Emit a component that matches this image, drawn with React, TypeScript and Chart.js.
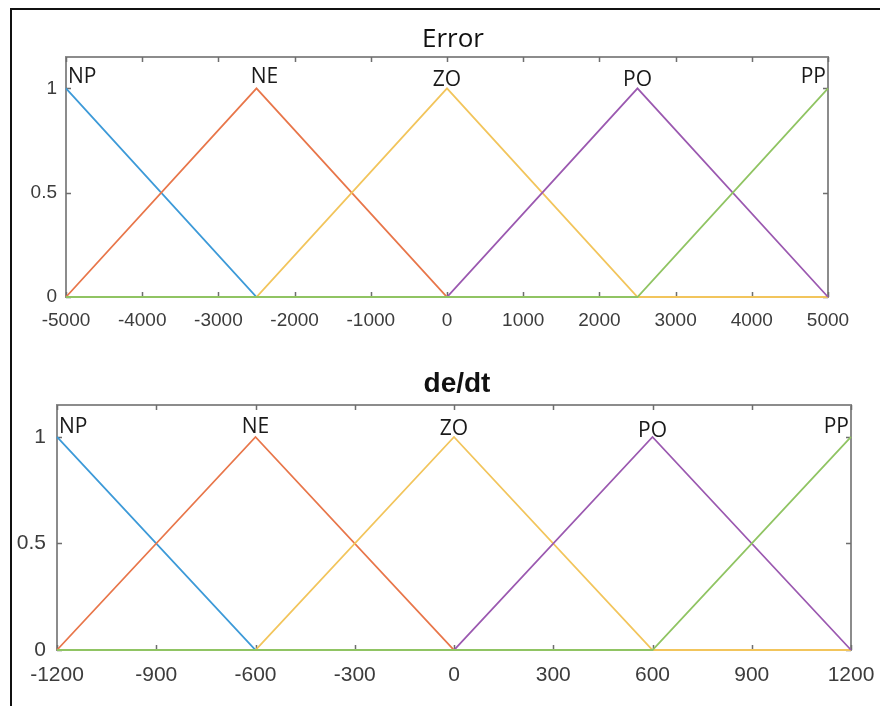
import React, { useEffect, useRef } from "react";
import { Chart, registerables } from "chart.js";

Chart.register(...registerables);

// ---- data ----
const mfNames = ["NP", "NE", "ZO", "PO", "PP"];
const errorBreaks = [-5000, -2500, 0, 2500, 5000];
const dedtBreaks = [-1200, -600, 0, 600, 1200];
const mfNP = [1, 0, 0, 0, 0];
const mfNE = [0, 1, 0, 0, 0];
const mfZO = [0, 0, 1, 0, 0];
const mfPO = [0, 0, 0, 1, 0];
const mfPP = [0, 0, 0, 0, 1];
const errorTicks = [-5000, -4000, -3000, -2000, -1000, 0, 1000, 2000, 3000, 4000, 5000];
const dedtTicks = [-1200, -900, -600, -300, 0, 300, 600, 900, 1200];
const yTicks = [0, 0.5, 1];
const errorTitle = "Error";
const dedtTitle = "de/dt";

// ---- styles ----
const mfColors = ["#3d9ad8", "#e8764a", "#f2c55c", "#9b59b0", "#90c463"];
const mfValues = [mfNP, mfNE, mfZO, mfPO, mfPP];

type PanelCfg = {
  title: string;
  breaks: number[];
  xTicks: number[];
  top: number;
  height: number;
  plotLeft: number;
  plotRight: number;
  plotTop: number;
  plotBottom: number;
  tickFont: number;
  yPad: number;
  xPad: number;
  titleFont: string;
  titleBaseline: number;
  titleDx: number;
  labelDy: number[];
  labelDx: number[];
};

const decoPlugin = {
  id: "deco",
  beforeDatasetsDraw(chart: any, _a: any, opts: any) {
    const { ctx, chartArea: ca } = chart;
    ctx.save();
    ctx.strokeStyle = "#8c8c8c";
    ctx.lineWidth = 2;
    ctx.strokeRect(ca.left, ca.top, ca.right - ca.left, ca.bottom - ca.top);
    // inward ticks
    ctx.lineWidth = 1.5;
    ctx.strokeStyle = "#6e6e6e";
    const xs = chart.scales.x;
    const ys = chart.scales.y;
    const L = 5;
    ctx.beginPath();
    for (const v of opts.xTicks) {
      const px = Math.round(xs.getPixelForValue(v)) + 0.5;
      ctx.moveTo(px, ca.bottom);
      ctx.lineTo(px, ca.bottom - L);
      ctx.moveTo(px, ca.top);
      ctx.lineTo(px, ca.top + L);
    }
    for (const v of yTicks) {
      const py = Math.round(ys.getPixelForValue(v)) + 0.5;
      ctx.moveTo(ca.left, py);
      ctx.lineTo(ca.left + L, py);
      ctx.moveTo(ca.right, py);
      ctx.lineTo(ca.right - L, py);
    }
    ctx.stroke();
    ctx.restore();
  },
  afterDatasetsDraw(chart: any, _a: any, opts: any) {
    const { ctx, chartArea: ca } = chart;
    const xs = chart.scales.x;
    const ys = chart.scales.y;
    ctx.save();
    // title
    ctx.fillStyle = "#111";
    ctx.font = opts.titleFont;
    ctx.textAlign = "center";
    ctx.textBaseline = "alphabetic";
    ctx.fillText(opts.title, (ca.left + ca.right) / 2 + opts.titleDx, opts.titleBaseline);
    // mf labels
    ctx.font = '21px "Open Sans"';
    ctx.fillStyle = "#1a1a1a";
    const yPeak = ys.getPixelForValue(1);
    mfNames.forEach((name, i) => {
      const peakX = opts.breaks[i];
      let px = xs.getPixelForValue(peakX) + opts.labelDx[i];
      if (i === 0) {
        ctx.textAlign = "left";
        px = ca.left + 2;
      } else if (i === mfNames.length - 1) {
        ctx.textAlign = "right";
        px = ca.right - 2;
      } else {
        ctx.textAlign = "center";
      }
      ctx.fillText(name, px, yPeak + opts.labelDy[i]);
    });
    ctx.restore();
  },
};

function Panel({ cfg }: { cfg: PanelCfg }) {
  const ref = useRef<HTMLCanvasElement | null>(null);
  useEffect(() => {
    if (!ref.current) return;
    const datasets = mfNames.map((name, i) => ({
      label: name,
      data: cfg.breaks.map((x, j) => ({ x, y: mfValues[i][j] })),
      borderColor: mfColors[i],
      backgroundColor: mfColors[i],
      borderWidth: 1.8,
      pointRadius: 0,
      showLine: true,
      fill: false,
      tension: 0,
      order: mfNames.length - 1 - i,
      clip: false as any,
    }));
    const chart = new Chart(ref.current, {
      type: "scatter",
      data: { datasets },
      plugins: [decoPlugin as any],
      options: {
        animation: false,
        responsive: false,
        maintainAspectRatio: false,
        events: [],
        layout: {
          padding: { left: 0, top: cfg.plotTop, right: 880 - cfg.plotRight, bottom: 0 },
        },
        plugins: {
          legend: { display: false },
          tooltip: { enabled: false },
          deco: {
            title: cfg.title,
            breaks: cfg.breaks,
            xTicks: cfg.xTicks,
            titleFont: cfg.titleFont,
            titleBaseline: cfg.titleBaseline,
            titleDx: cfg.titleDx,
            labelDy: cfg.labelDy,
            labelDx: cfg.labelDx,
          },
        } as any,
        scales: {
          x: {
            type: "linear",
            min: cfg.breaks[0],
            max: cfg.breaks[cfg.breaks.length - 1],
            grid: { display: false, drawTicks: false },
            border: { display: false },
            afterBuildTicks: (s: any) => {
              s.ticks = cfg.xTicks.map((v) => ({ value: v }));
            },
            afterFit: (s: any) => {
              s.height = cfg.height - cfg.plotBottom;
              s.paddingLeft = 0;
              s.paddingRight = 0;
            },
            ticks: {
              autoSkip: false,
              maxRotation: 0,
              padding: cfg.xPad,
              color: "#3c3c3c",
              font: { family: '"Liberation Sans", Arial, sans-serif', size: cfg.tickFont },
              callback: (v: any) => String(v),
            },
          },
          y: {
            type: "linear",
            min: 0,
            max: 1.15,
            grid: { display: false, drawTicks: false },
            border: { display: false },
            afterBuildTicks: (s: any) => {
              s.ticks = yTicks.map((v) => ({ value: v }));
            },
            afterFit: (s: any) => {
              s.width = cfg.plotLeft;
              s.paddingTop = 0;
              s.paddingBottom = 0;
            },
            ticks: {
              autoSkip: false,
              padding: cfg.yPad,
              color: "#3c3c3c",
              font: { family: '"Liberation Sans", Arial, sans-serif', size: cfg.tickFont },
              callback: (v: any) => String(v),
            },
          },
        },
      } as any,
    });
    return () => chart.destroy();
  }, [cfg]);
  return (
    <canvas
      ref={ref}
      width={880}
      height={cfg.height}
      style={{ position: "absolute", left: 0, top: cfg.top, width: 880, height: cfg.height }}
    />
  );
}

const topCfg: PanelCfg = {
  title: errorTitle,
  breaks: errorBreaks,
  xTicks: errorTicks,
  top: 0,
  height: 350,
  plotLeft: 66,
  plotRight: 828,
  plotTop: 57,
  plotBottom: 297,
  tickFont: 19,
  yPad: 9,
  xPad: 12,
  titleFont: '26px "Open Sans"',
  titleBaseline: 47,
  titleDx: 6,
  labelDy: [-5, -5, -2, -2, -5],
  labelDx: [0, 8, 0, 0, 0],
};

const botCfg: PanelCfg = {
  title: dedtTitle,
  breaks: dedtBreaks,
  xTicks: dedtTicks,
  top: 350,
  height: 356,
  plotLeft: 57,
  plotRight: 851,
  plotTop: 55,
  plotBottom: 300,
  tickFont: 21,
  yPad: 11,
  xPad: 13,
  titleFont: 'bold 28px "Liberation Sans", Arial, sans-serif',
  titleBaseline: 42,
  titleDx: 3,
  labelDy: [-4, -4, -2, 0, -4],
  labelDx: [0, 0, 0, 0, 0],
};

export default function App() {
  useEffect(() => {
    document.body.style.margin = "0";
    document.body.style.background = "#fff";
  }, []);
  return (
    <div style={{ position: "relative", width: 880, height: 706, overflow: "hidden", background: "#fff" }}>
      <div
        style={{
          position: "absolute",
          left: 10,
          top: 8,
          right: -10,
          bottom: -10,
          borderTop: "2px solid #111",
          borderLeft: "2px solid #111",
        }}
      />
      <Panel cfg={topCfg} />
      <Panel cfg={botCfg} />
    </div>
  );
}
